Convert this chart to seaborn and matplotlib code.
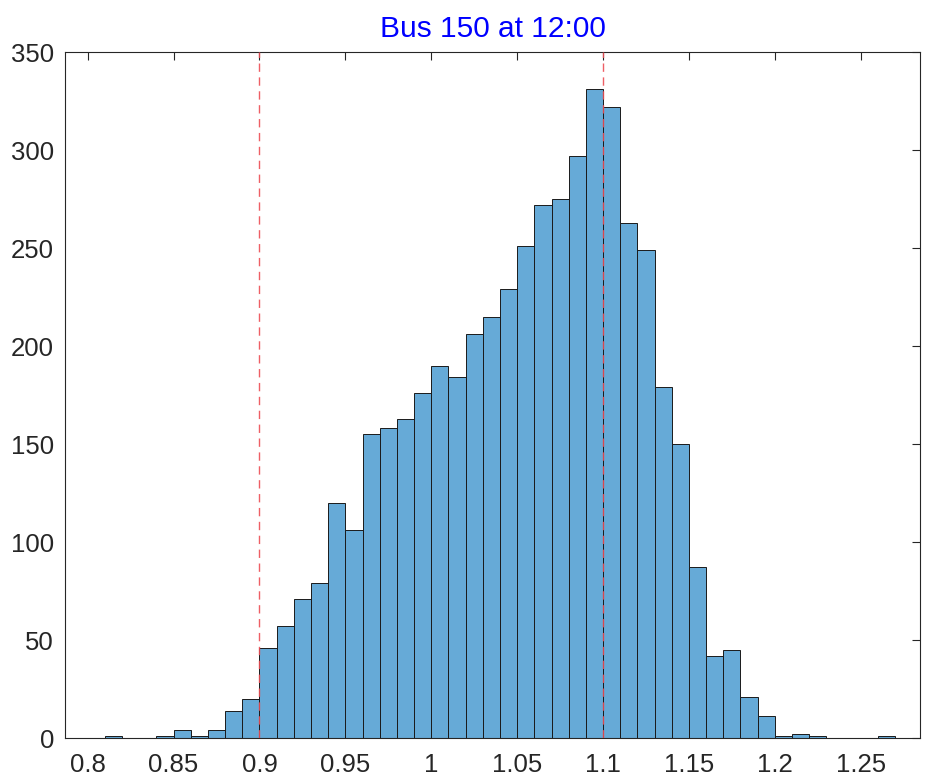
import numpy as np
import pandas as pd
import matplotlib
matplotlib.use("Agg")
import matplotlib.pyplot as plt
import seaborn as sns

# ---- data ----
bin_start = 0.81
bin_width = 0.01
counts = [1, 0, 0, 1, 4, 1, 4, 14, 20,
          46, 57, 71, 79, 120, 106, 155, 158, 163, 176,
          190, 184, 206, 215, 229, 251, 272, 275, 297, 331,
          322, 263, 249, 179, 150, 87, 42, 45, 21, 11,
          1, 2, 1, 0, 0, 0, 1]
limit_lines = [0.9, 1.1]
title_text = "Bus 150 at 12:00"
x_ticks = [0.8, 0.85, 0.9, 0.95, 1.0, 1.05, 1.1, 1.15, 1.2, 1.25]
x_ticklabels = ["0.8", "0.85", "0.9", "0.95", "1", "1.05", "1.1", "1.15", "1.2", "1.25"]
y_ticks = [0, 50, 100, 150, 200, 250, 300, 350]

edges = [float(e) for e in bin_start + bin_width * np.arange(len(counts) + 1)]
centers = [(a + b) / 2 for a, b in zip(edges[:-1], edges[1:])]
df = pd.DataFrame({"voltage": centers, "count": counts})

sns.set_style("white")
plt.rcParams["font.family"] = ["Liberation Sans", "DejaVu Sans"]

fig = plt.figure(figsize=(9.25, 7.8), dpi=100)
ax = fig.add_axes([65 / 925, 1 - 738 / 780, (920 - 65) / 925, (738 - 52) / 780])

sns.histplot(data=df, x="voltage", weights="count", bins=edges, ax=ax,
             color="#66AAD7", edgecolor=(0.1, 0.1, 0.1), linewidth=0.7, alpha=1.0)

for v in limit_lines:
    ax.axvline(v, color=(0.93, 0.3, 0.33), lw=1.0, alpha=0.9,
               linestyle=(0, (6, 4)), zorder=5)

ax.set_xlim(0.7868, 1.2845)
ax.set_ylim(0, 350)
ax.set_xticks(x_ticks)
ax.set_xticklabels(x_ticklabels)
ax.set_yticks(y_ticks)
ax.set_xlabel("")
ax.set_ylabel("")

axc = (0.15, 0.15, 0.15)
for s in ax.spines.values():
    s.set_visible(True)
    s.set_color(axc)
    s.set_linewidth(0.8)
ax.tick_params(axis="both", direction="in", length=6, width=0.8, color=axc,
               labelcolor=axc, labelsize=18.5, top=True, right=True)
ax.tick_params(axis="x", pad=11)
ax.tick_params(axis="y", pad=8)

ax.set_title(title_text, color="blue", fontsize=21.5, pad=11)

fig.savefig("out.png", dpi=100)
